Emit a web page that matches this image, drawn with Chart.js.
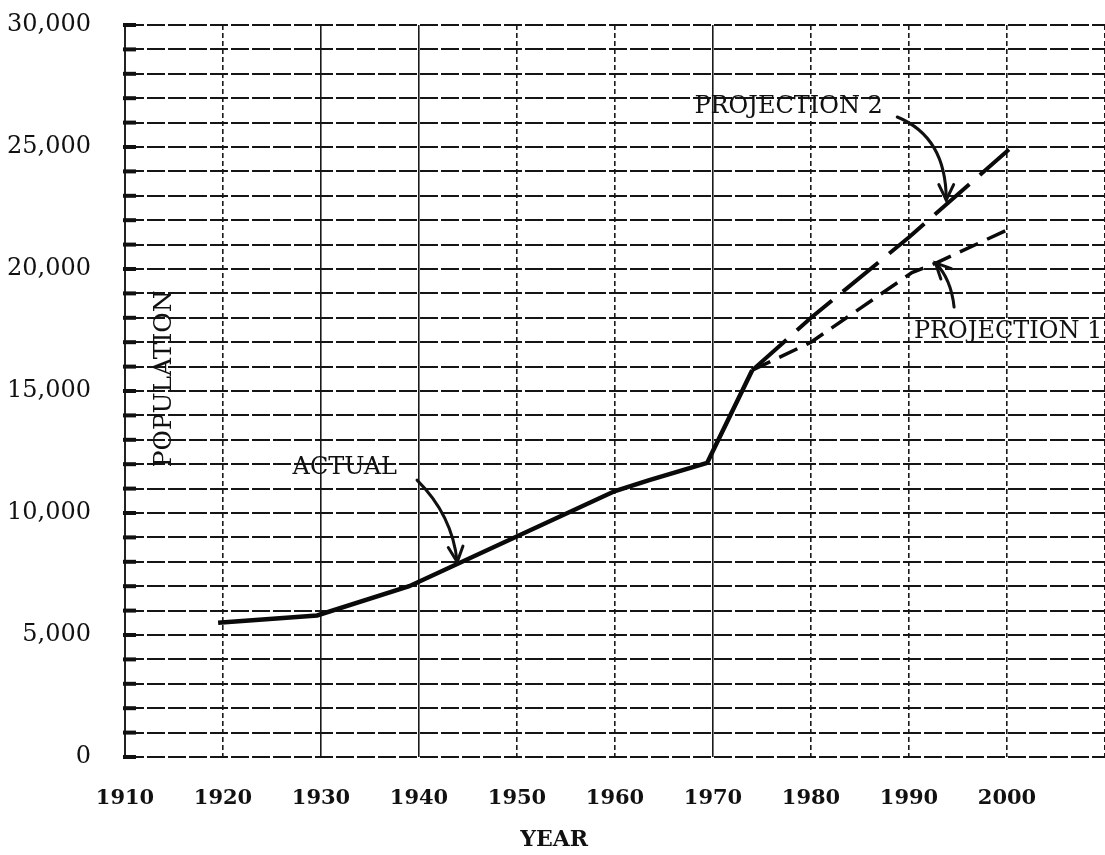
<!DOCTYPE html>
<html>
<head>
<meta charset="utf-8">
<script src="https://cdn.jsdelivr.net/npm/chart.js@4/dist/chart.umd.min.js"></script>
<style>
  html, body { margin: 0; padding: 0; background: #fff; }
  #wrap { width: 1105px; height: 855px; }
</style>
</head>
<body>
<div id="wrap"><canvas id="c" width="1105" height="855"></canvas></div>
<script>
// --- data ---
const actualYears = [1919.5, 1929.6, 1939, 1960, 1963.5, 1969.4, 1974];
const actualPop = [5500, 5800, 7000, 10900, 11350, 12050, 15850];
const proj2Years = [1974, 1980, 1990, 2000.2];
const proj2Pop = [15850, 18000, 21300, 24900];
const proj1Years = [1974, 1980, 1990.3, 1992.8, 2000];
const proj1Pop = [15850, 17000, 19850, 20250, 21600];
const yearTicks = [1910, 1920, 1930, 1940, 1950, 1960, 1970, 1980, 1990, 2000];
const popLabels = [0, 5000, 10000, 15000, 20000, 25000, 30000];

// callouts: text anchor + curved arrow (start, bend, tip) in data units
const NOTES = [
  { text: "ACTUAL", at: [1927.1, 11840], from: [1939.8, 11350], via: [1943.4, 9920], to: [1943.9, 7990] },
  { text: "PROJECTION 2", at: [1968.1, 26640], from: [1988.8, 26230], via: [1993.8, 25410], to: [1993.8, 22830] },
  { text: "PROJECTION 1", at: [1990.5, 17420], from: [1994.6, 18440], via: [1994.3, 19590], to: [1992.7, 20250] },
];

const pts = (xs, ys) => xs.map((x, i) => ({ x, y: ys[i] }));
const SERIF = "'DejaVu Serif', 'Liberation Serif', serif";
const solidYears = [1930, 1940, 1970];

// annotations, axis captions and the thick left stubs
const extras = {
  id: "extras",
  afterDraw(chart) {
    const { ctx, scales: { x, y }, chartArea: a } = chart;
    ctx.save();
    // stubs on the left edge at every grid row
    ctx.strokeStyle = "#111"; ctx.lineWidth = 4; ctx.setLineDash([]);
    y.ticks.forEach((t) => {
      const py = y.getPixelForValue(t.value);
      ctx.beginPath(); ctx.moveTo(a.left - 2, py); ctx.lineTo(a.left + 11, py); ctx.stroke();
    });
    // callouts
    ctx.fillStyle = "#111"; ctx.font = "24px " + SERIF; ctx.textAlign = "left"; ctx.textBaseline = "middle";
    NOTES.forEach((n) => {
      ctx.fillText(n.text, x.getPixelForValue(n.at[0]), y.getPixelForValue(n.at[1]));
      const p0 = [x.getPixelForValue(n.from[0]), y.getPixelForValue(n.from[1])];
      const c = [x.getPixelForValue(n.via[0]), y.getPixelForValue(n.via[1])];
      const p1 = [x.getPixelForValue(n.to[0]), y.getPixelForValue(n.to[1])];
      ctx.lineWidth = 3; ctx.lineCap = "round";
      ctx.beginPath(); ctx.moveTo(p0[0], p0[1]); ctx.quadraticCurveTo(c[0], c[1], p1[0], p1[1]); ctx.stroke();
      const ang = Math.atan2(p1[1] - c[1], p1[0] - c[0]);
      ctx.beginPath();
      ctx.moveTo(p1[0] - 17 * Math.cos(ang - 0.45), p1[1] - 17 * Math.sin(ang - 0.45));
      ctx.lineTo(p1[0], p1[1]);
      ctx.lineTo(p1[0] - 17 * Math.cos(ang + 0.45), p1[1] - 17 * Math.sin(ang + 0.45));
      ctx.stroke();
    });
    // axis captions
    ctx.textAlign = "center";
    ctx.font = "25px " + SERIF;
    ctx.translate(a.left + 39, y.getPixelForValue(15500));
    ctx.rotate(-Math.PI / 2);
    ctx.fillText("POPULATION", 0, 0);
    ctx.setTransform(1, 0, 0, 1, 0, 0);
    ctx.font = "bold 22px " + SERIF;
    ctx.fillText("YEAR", x.getPixelForValue(1953.8), a.bottom + 83);
    ctx.restore();
  },
};

new Chart(document.getElementById("c"), {
  type: "line",
  data: {
    datasets: [
      { label: "Actual", data: pts(actualYears, actualPop), borderColor: "#0a0a0a", borderWidth: 4.5, pointRadius: 0, tension: 0 },
      { label: "Projection 2", data: pts(proj2Years, proj2Pop), borderColor: "#0a0a0a", borderWidth: 4, borderDash: [46, 14], pointRadius: 0, tension: 0 },
      { label: "Projection 1", data: pts(proj1Years, proj1Pop), borderColor: "#0a0a0a", borderWidth: 3.5, borderDash: [20, 10], pointRadius: 0, tension: 0 },
    ],
  },
  options: {
    responsive: false, animation: false,
    layout: { padding: { top: 25, left: 0, right: 0, bottom: 0 } },
    plugins: { legend: { display: false }, tooltip: { enabled: false } },
    scales: {
      x: {
        type: "linear", min: 1910, max: 2010,
        afterFit: (s) => { s.height = 98; s.paddingLeft = 0; s.paddingRight = 0; },
        afterBuildTicks: (s) => { s.ticks = yearTicks.concat([2010]).map((v) => ({ value: v })); },
        ticks: { autoSkip: false, maxRotation: 0, padding: 29, color: "#111", font: { family: SERIF, size: 21, weight: "bold" },
          callback: (v) => (yearTicks.includes(v) ? String(v) : "") },
        grid: { drawTicks: false, lineWidth: (c) => (c.index === 0 ? 0 : 1.6), color: "#1a1a1a" },
        border: { display: false, dash: (c) => (solidYears.includes(c.tick && c.tick.value) ? [] : [5, 3]) },
      },
      y: {
        min: 0, max: 30000,
        afterFit: (s) => { s.width = 125; s.paddingTop = 0; s.paddingBottom = 0; },
        ticks: { stepSize: 1000, autoSkip: false, padding: 34, color: "#111", font: { family: SERIF, size: 24 },
          callback: (v) => (popLabels.includes(v) ? v.toLocaleString("en-US") : "") },
        grid: { drawTicks: false, lineWidth: 2, color: "#151515" },
        border: { display: true, color: "#222", width: 2, dash: [18, 3] },
      },
    },
  },
  plugins: [extras],
});
</script>
</body>
</html>
